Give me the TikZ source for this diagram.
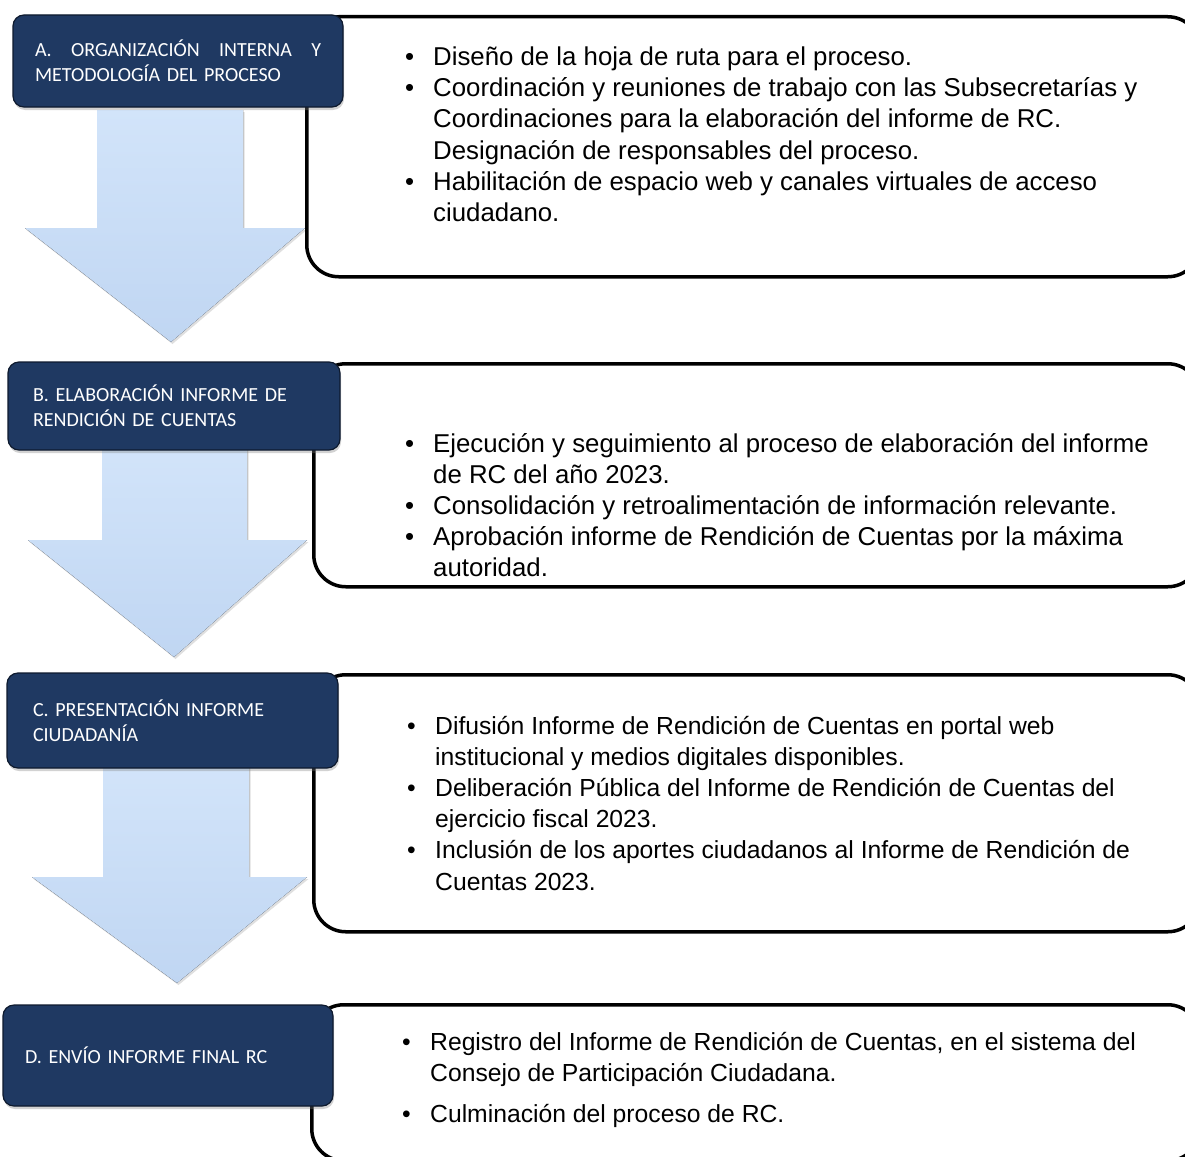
\documentclass[tikz,border=0pt]{standalone}
\usepackage{fontspec}
\setmainfont{Liberation Sans}
\newfontfamily\hdrfont{Carlito}
\usetikzlibrary{shadows}
\definecolor{hdrblue}{RGB}{31,57,98}
\definecolor{hdredge}{RGB}{14,26,46}
\definecolor{arrtop}{RGB}{210,228,250}
\definecolor{arrbot}{RGB}{192,214,242}
\newcommand{\bul}{\leavevmode\llap{\makebox[28pt][l]{•}}}
\tikzset{
  header/.style={rounded corners=11pt, fill=hdrblue, draw=hdredge, line width=1.2pt,
    text=white, font=\hdrfont\fontsize{20}{25}\selectfont, align=left, inner sep=0pt,
    drop shadow={shadow xshift=1pt, shadow yshift=-3pt, opacity=0.35}},
  infobox/.style={draw=black, line width=3.5pt, rounded corners=32pt, fill=white,
    anchor=north west, inner sep=0pt},
  bodytext/.style={anchor=base west, inner sep=0pt, font=\fontsize{25.8}{31}\selectfont},
  smalltext/.style={bodytext, font=\fontsize{24.7}{31.2}\selectfont},
  blockarrow/.style={top color=arrtop, bottom color=arrbot, draw=none,
    drop shadow={shadow xshift=1.5pt, shadow yshift=-2pt, opacity=0.25}},
}
\begin{document}
\begin{tikzpicture}[x=1pt,y=-1pt]
\useasboundingbox (0,0) rectangle (1185,1156);
\clip (0,0) rectangle (1185,1156);
\fill[white] (0,0) rectangle (1185,1156);

% block arrows
\fill[blockarrow] (97,110) -- (243,110) -- (243,228) -- (305,228) -- (171,342) -- (25,228) -- (97,228) -- cycle;
\fill[blockarrow] (102,445) -- (247,445) -- (247,540) -- (307,540) -- (174,657) -- (28,540) -- (102,540) -- cycle;
\fill[blockarrow] (103,765) -- (249,765) -- (249,877) -- (307,877) -- (177,983) -- (32,877) -- (103,877) -- cycle;

% right boxes
\node[infobox, minimum width=893pt, minimum height=260pt] (bA) at (305,15) {};
\node[infobox, minimum width=886pt, minimum height=223pt] (bB) at (312,362) {};
\node[infobox, minimum width=886pt, minimum height=257pt] (bC) at (312,673) {};
\node[infobox, minimum width=888pt, minimum height=156pt] (bD) at (310,1003) {};

% headers
\node[header, minimum width=330pt, minimum height=92pt, text width=286pt] (hA) at (178,61)
  {\hbox to 286pt{A.\hfill ORGANIZACIÓN\hfill INTERNA\hfill Y}\\METODOLOGÍA DEL PROCESO};
\node[header, minimum width=332pt, minimum height=88pt, text width=282pt] (hB) at (174,406)
  {B. ELABORACIÓN INFORME DE\\RENDICIÓN DE CUENTAS};
\node[header, minimum width=331pt, minimum height=95pt, text width=279pt] (hC) at (172.5,720.5)
  {C. PRESENTACIÓN INFORME\\CIUDADANÍA};
\node[header, minimum width=330pt, minimum height=101pt, text width=286pt] (hD) at (168,1055.5)
  {D. ENVÍO INFORME FINAL RC};

% texts
\node[bodytext] (tA) at (433,66) {\begin{minipage}[t]{745pt}\raggedright
\bul Diseño de la hoja de ruta para el proceso.\\
\bul Coordinación y reuniones de trabajo con las Subsecretarías y\\
Coordinaciones para la elaboración del informe de RC.\\
Designación de responsables del proceso.\\
\bul Habilitación de espacio web y canales virtuales de acceso\\
ciudadano.
\end{minipage}};
\node[bodytext] (tB) at (433,452) {\begin{minipage}[t]{745pt}\raggedright
\bul Ejecución y seguimiento al proceso de elaboración del informe\\
de RC del año 2023.\\
\bul Consolidación y retroalimentación de información relevante.\\
\bul Aprobación informe de Rendición de Cuentas por la máxima\\
autoridad.
\end{minipage}};
\node[smalltext] (tC) at (435,734) {\begin{minipage}[t]{745pt}\raggedright
\bul Difusión Informe de Rendición de Cuentas en portal web\\
institucional y medios digitales disponibles.\\
\bul Deliberación Pública del Informe de Rendición de Cuentas del\\
ejercicio fiscal 2023.\\
\bul Inclusión de los aportes ciudadanos al Informe de Rendición de\\
Cuentas 2023.
\end{minipage}};
\node[smalltext] (tD) at (430,1050) {\begin{minipage}[t]{745pt}\raggedright
\bul Registro del Informe de Rendición de Cuentas, en el sistema del\\
Consejo de Participación Ciudadana.\par\vspace{10pt}
\bul Culminación del proceso de RC.
\end{minipage}};
\end{tikzpicture}
\end{document}
